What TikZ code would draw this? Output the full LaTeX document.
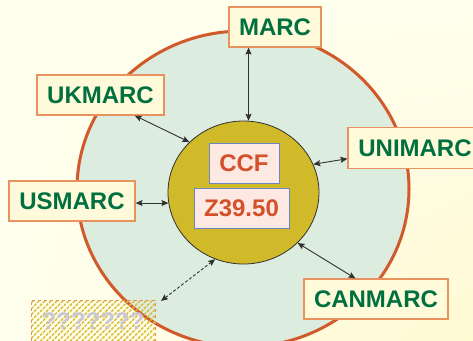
\documentclass[tikz,border=0pt]{standalone}
\usepackage{fontspec}
\setmainfont{Liberation Sans}
\usetikzlibrary{arrows.meta,patterns.meta,shapes.geometric,shadings}
\definecolor{bgA}{HTML}{FFFFEE}
\definecolor{bgB}{HTML}{FFF9D2}
\definecolor{ringfill}{HTML}{DCECDF}
\definecolor{ringline}{HTML}{D15A2B}
\definecolor{hubfill}{HTML}{D1BA2A}
\definecolor{boxfill}{HTML}{FFFBDA}
\definecolor{boxline}{HTML}{E8925E}
\definecolor{fmtgreen}{HTML}{007040}
\definecolor{stdfill}{HTML}{FDE9E1}
\definecolor{stdline}{HTML}{6A86C8}
\definecolor{stdtext}{HTML}{D4502A}
\definecolor{qtext}{HTML}{C8C8D8}
\definecolor{hatch}{HTML}{D9BC34}
\definecolor{conncol}{HTML}{303030}
\tikzset{
  fmtbox/.style={draw=boxline, line width=1.1pt, fill=boxfill, text=fmtgreen,
    font=\fontsize{24}{28}\selectfont\bfseries, minimum height=40pt, inner sep=0pt},
  stdbox/.style={draw=stdline, line width=1pt, fill=stdfill, text=stdtext,
    font=\fontsize{24}{28}\selectfont\bfseries, minimum height=40pt, inner sep=0pt},
  conn/.style={draw=conncol, line width=0.9pt, {Stealth[length=7pt,width=6pt,inset=1.2pt]}-{Stealth[length=7pt,width=6pt,inset=1.2pt]}},
}
\begin{document}
\begin{tikzpicture}[x=1pt,y=-1pt]
\useasboundingbox (0,0) rectangle (473,340);
\clip (0,0) rectangle (473,340);
\shade[upper left=bgA, upper right=bgA, lower left=bgA, lower right=bgB] (0,0) rectangle (473,340);
% outer ring
\draw[ringline, fill=ringfill, line width=3pt] (243,189) ellipse [x radius=166, y radius=158];
% hub
\node[ellipse, draw=conncol, line width=0.8pt, fill=hubfill, minimum width=151pt, minimum height=143pt, inner sep=0pt] (hub) at (243.5,192.5) {};
\node[stdbox, minimum width=70pt] (ccf) at (244,163) {CCF};
\node[stdbox, minimum width=95pt] (z3950) at (241.5,208) {Z39.50};
% format boxes
\node[fmtbox, minimum width=92pt] (marc) at (275,27) {MARC};
\node[fmtbox, minimum width=127pt] (ukmarc) at (100.5,95) {UKMARC};
\node[fmtbox, minimum width=134pt, minimum height=41pt] (unimarc) at (415,148) {UNIMARC};
\node[fmtbox, minimum width=126pt] (usmarc) at (72,201) {USMARC};
\node[fmtbox, minimum width=144pt] (canmarc) at (376,299) {CANMARC};
% unknown box
\node[draw=boxline, dashed, line width=0.8pt, pattern={Lines[angle=45,distance=4.2pt,line width=1.4pt]}, pattern color=hatch,
  minimum width=124pt, minimum height=50pt, inner sep=0pt] (qbox) at (93,325) {};
\node[text=qtext, font=\fontsize{24}{28}\selectfont\bfseries, anchor=base] (qtxt) at (93,329) {???????};
% connectors
\draw[conn] (marc.south -| hub.86) -- (hub.86);
\draw[conn] (ukmarc.-31.6) -- (hub.137);
\draw[conn] (unimarc.189) -- (hub.22);
\draw[conn] (usmarc.east |- hub.188) -- (hub.188);
\draw[conn] (canmarc.135) -- (hub.-43);
\coordinate (qend) at (161,301);
\draw[conn, dashed, dash pattern=on 3pt off 2pt] (qend) -- (hub.247);
\end{tikzpicture}
\end{document}
